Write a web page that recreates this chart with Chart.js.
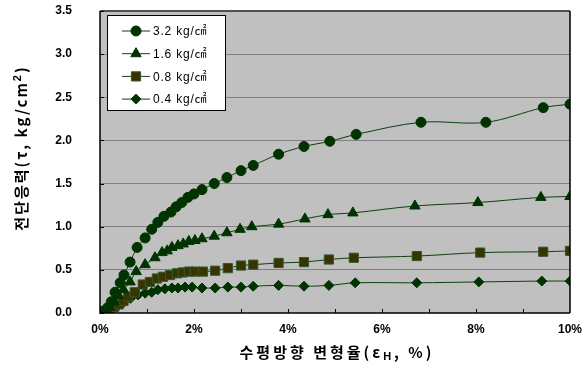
<!DOCTYPE html>
<html>
<head>
<meta charset="utf-8">
<script src="https://cdn.jsdelivr.net/npm/chart.js@4.4.1/dist/chart.umd.min.js"></script>
<style>
  html, body { margin: 0; padding: 0; background: #ffffff; }
  #wrap { width: 586px; height: 374px; }
</style>
</head>
<body>
<div id="wrap"><canvas id="myChart" width="586" height="374"></canvas></div>
<script>
// legend labels
var seriesNames = ['3.2 kg/㎠', '1.6 kg/㎠', '0.8 kg/㎠', '0.4 kg/㎠'];

// horizontal strain (%) and shear stress (kg/cm2)
var strain32 = [0, 0.08, 0.16, 0.24, 0.32, 0.43, 0.51, 0.64, 0.79, 0.96, 1.1, 1.23, 1.36, 1.51, 1.62, 1.74, 1.87, 2.0, 2.17, 2.43, 2.7, 3.0, 3.26, 3.8, 4.34, 4.89, 5.45, 6.83, 8.21, 9.43, 10.0];
var stress32 = [0, 0.02, 0.06, 0.13, 0.24, 0.35, 0.44, 0.59, 0.76, 0.87, 0.97, 1.05, 1.12, 1.17, 1.23, 1.28, 1.34, 1.38, 1.43, 1.5, 1.57, 1.65, 1.71, 1.84, 1.93, 1.99, 2.07, 2.21, 2.21, 2.38, 2.42];

var strain16 = [0, 0.1, 0.2, 0.3, 0.4, 0.5, 0.64, 0.77, 0.96, 1.17, 1.32, 1.43, 1.53, 1.66, 1.77, 1.89, 2.02, 2.17, 2.43, 2.7, 2.98, 3.23, 3.8, 4.36, 4.85, 5.38, 6.7, 8.04, 9.38, 10.0];
var stress16 = [0, 0.03, 0.07, 0.13, 0.2, 0.27, 0.36, 0.48, 0.56, 0.64, 0.70, 0.72, 0.76, 0.78, 0.80, 0.83, 0.84, 0.86, 0.89, 0.93, 0.97, 1.0, 1.03, 1.09, 1.14, 1.16, 1.24, 1.28, 1.34, 1.35];

var strain08 = [0, 0.1, 0.2, 0.3, 0.4, 0.5, 0.6, 0.74, 0.91, 1.06, 1.21, 1.34, 1.49, 1.64, 1.76, 1.89, 2.02, 2.19, 2.45, 2.72, 3.0, 3.26, 3.8, 4.34, 4.87, 5.4, 6.74, 8.09, 9.43, 10.0];
var stress08 = [0, 0.02, 0.04, 0.07, 0.1, 0.14, 0.19, 0.24, 0.33, 0.36, 0.40, 0.42, 0.44, 0.46, 0.47, 0.48, 0.48, 0.48, 0.49, 0.52, 0.55, 0.56, 0.58, 0.59, 0.62, 0.64, 0.66, 0.70, 0.71, 0.72];

var strain04 = [0, 0.1, 0.2, 0.3, 0.4, 0.5, 0.65, 0.81, 0.96, 1.1, 1.23, 1.38, 1.53, 1.66, 1.81, 1.96, 2.17, 2.45, 2.72, 3.0, 3.26, 3.8, 4.34, 4.87, 5.43, 6.74, 8.06, 9.4, 10.0];
var stress04 = [0, 0.02, 0.04, 0.06, 0.09, 0.12, 0.17, 0.21, 0.23, 0.24, 0.27, 0.28, 0.29, 0.29, 0.30, 0.30, 0.29, 0.29, 0.30, 0.30, 0.31, 0.32, 0.31, 0.32, 0.35, 0.35, 0.36, 0.37, 0.37];

// axis ticks
var xTicks = [0, 2, 4, 6, 8, 10];
var yTicks = [0, 0.5, 1.0, 1.5, 2.0, 2.5, 3.0, 3.5];

var lineColor = '#0f3f0f';
var markColor = '#003300';

function toPoints(xs, ys) {
  return xs.map(function (x, i) { return { x: x, y: ys[i] }; });
}

// small marker painter, used for the legend
function drawMarker(ctx, style, x, y, r, fill, stroke) {
  ctx.save();
  ctx.fillStyle = fill;
  ctx.strokeStyle = stroke;
  ctx.lineWidth = 1;
  ctx.beginPath();
  if (style === 'circle') {
    ctx.arc(x, y, r, 0, Math.PI * 2);
  } else if (style === 'triangle') {
    ctx.moveTo(x, y - r);
    ctx.lineTo(x + r * 0.866, y + r * 0.5);
    ctx.lineTo(x - r * 0.866, y + r * 0.5);
    ctx.closePath();
  } else if (style === 'rect') {
    var s = r * Math.SQRT1_2;
    ctx.rect(x - s, y - s, 2 * s, 2 * s);
  } else {
    ctx.moveTo(x - r, y);
    ctx.lineTo(x, y - r);
    ctx.lineTo(x + r, y);
    ctx.lineTo(x, y + r);
    ctx.closePath();
  }
  ctx.fill();
  ctx.stroke();
  ctx.restore();
}

// gray plot background
var plotBg = {
  id: 'plotBg',
  beforeDraw: function (chart) {
    var a = chart.chartArea, ctx = chart.ctx;
    ctx.save();
    ctx.fillStyle = '#c0c0c0';
    ctx.fillRect(a.left, a.top, a.right - a.left, a.bottom - a.top);
    ctx.restore();
  }
};

// frame, inside ticks, legend box and axis titles
var extras = {
  id: 'extras',
  afterDraw: function (chart) {
    var a = chart.chartArea, ctx = chart.ctx;
    var xs = chart.scales.x, ys = chart.scales.y;
    ctx.save();

    // frame
    ctx.strokeStyle = '#505050';
    ctx.lineWidth = 2;
    ctx.beginPath();
    ctx.moveTo(a.left, a.top);
    ctx.lineTo(a.right, a.top);
    ctx.stroke();
    ctx.strokeStyle = '#000000';
    ctx.lineWidth = 1.5;
    ctx.beginPath();
    ctx.moveTo(a.right, a.top);
    ctx.lineTo(a.right, a.bottom);
    ctx.moveTo(a.left, a.top);
    ctx.lineTo(a.left, a.bottom);
    ctx.lineTo(a.right, a.bottom);
    ctx.stroke();

    // inside tick marks
    ctx.lineWidth = 1;
    ctx.beginPath();
    for (var i = 1; i < 10; i++) {
      var px = Math.round(xs.getPixelForValue(i)) + 0.5;
      ctx.moveTo(px, a.bottom);
      ctx.lineTo(px, a.bottom - 4);
    }
    yTicks.forEach(function (v) {
      var py = Math.round(ys.getPixelForValue(v)) + 0.5;
      ctx.moveTo(a.left, py);
      ctx.lineTo(a.left + 4, py);
    });
    ctx.stroke();

    // legend box
    var bx = 107, by = 15, bw = 118, bh = 95;
    ctx.fillStyle = '#ffffff';
    ctx.fillRect(bx, by, bw, bh);
    ctx.strokeStyle = '#000000';
    ctx.lineWidth = 1;
    ctx.strokeRect(bx + 0.5, by + 0.5, bw, bh);
    chart.data.datasets.forEach(function (ds, k) {
      var ly = 31 + k * 22.7;
      ctx.strokeStyle = lineColor;
      ctx.lineWidth = 1;
      ctx.beginPath();
      ctx.moveTo(122, ly);
      ctx.lineTo(150, ly);
      ctx.stroke();
      drawMarker(ctx, ds.pointStyle, 136, ly, ds.pointRadius, ds.pointBackgroundColor, ds.pointBorderColor);
      ctx.save();
      ctx.fillStyle = '#000000';
      ctx.font = '12px "Liberation Sans", "Noto Sans CJK KR"';
      ctx.letterSpacing = '0.8px';
      ctx.textAlign = 'left';
      ctx.textBaseline = 'middle';
      ctx.fillText(seriesNames[k], 153, ly + 1);
      ctx.restore();
    });

    // x axis title with subscript H
    ctx.fillStyle = '#000000';
    ctx.textBaseline = 'alphabetic';
    ctx.textAlign = 'left';
    var big = 'bold 15px "Noto Sans CJK KR"';
    var small = 'bold 11px "Liberation Sans"';
    ctx.letterSpacing = '3px';
    var partA = '수평방향 변형율(ε', partB = 'H', partC = ', %)';
    ctx.font = big;
    var wA = ctx.measureText(partA).width, wC = ctx.measureText(partC).width;
    ctx.font = small;
    var wB = ctx.measureText(partB).width;
    var tx = 337 - (wA + wB + wC) / 2, ty = 358;
    ctx.font = big;
    ctx.fillText(partA, tx, ty);
    ctx.font = small;
    ctx.fillText(partB, tx + wA, ty + 2);
    ctx.font = big;
    ctx.fillText(partC, tx + wA + wB, ty);

    // y axis title with superscript 2
    ctx.letterSpacing = '2px';
    ctx.translate(27, 148);
    ctx.rotate(-Math.PI / 2);
    var yA = '전단응력(τ, kg/cm', yB = '2', yC = ')';
    ctx.font = big;
    var vA = ctx.measureText(yA).width, vC = ctx.measureText(yC).width;
    ctx.font = small;
    var vB = ctx.measureText(yB).width;
    var sx = -(vA + vB + vC) / 2;
    ctx.font = big;
    ctx.fillText(yA, sx, 0);
    ctx.font = small;
    ctx.fillText(yB, sx + vA, -6);
    ctx.font = big;
    ctx.fillText(yC, sx + vA + vB, 0);

    ctx.restore();
  }
};

function makeSet(label, xs, ys, style, radius, fill, border) {
  return {
    label: label,
    data: toPoints(xs, ys),
    showLine: true,
    borderColor: lineColor,
    borderWidth: 1,
    tension: 0.35,
    pointStyle: style,
    pointRadius: radius,
    pointHoverRadius: radius,
    pointBackgroundColor: fill,
    pointBorderColor: border,
    pointBorderWidth: 1
  };
}

var ctx = document.getElementById('myChart').getContext('2d');
var myChart = new Chart(ctx, {
  type: 'scatter',
  data: {
    datasets: [
      makeSet(seriesNames[0], strain32, stress32, 'circle', 5, markColor, markColor),
      makeSet(seriesNames[1], strain16, stress16, 'triangle', 6, markColor, markColor),
      makeSet(seriesNames[2], strain08, stress08, 'rect', 6.5, '#3a3300', '#2f5a2f'),
      makeSet(seriesNames[3], strain04, stress04, 'rectRot', 5, markColor, markColor)
    ]
  },
  options: {
    responsive: false,
    animation: false,
    layout: { padding: { left: 0, right: 16, top: 11, bottom: 0 } },
    plugins: {
      legend: { display: false },
      tooltip: { enabled: false }
    },
    scales: {
      x: {
        type: 'linear',
        min: 0,
        max: 10,
        afterFit: function (s) { s.height = 61; },
        afterBuildTicks: function (s) { s.ticks = xTicks.map(function (v) { return { value: v }; }); },
        // transparent tick marks only push the labels down
        grid: { display: true, drawOnChartArea: false, drawTicks: true, tickLength: 8, tickColor: 'rgba(0,0,0,0)', color: 'rgba(0,0,0,0)' },
        border: { display: false },
        ticks: {
          padding: 1,
          color: '#000000',
          font: { family: '"Liberation Sans"', size: 12, weight: 'bold' },
          callback: function (v) { return v + '%'; }
        }
      },
      y: {
        min: 0,
        max: 3.5,
        afterFit: function (s) { s.width = 100; },
        afterBuildTicks: function (s) { s.ticks = yTicks.map(function (v) { return { value: v }; }); },
        grid: {
          drawTicks: true,
          tickLength: 27,
          tickColor: 'rgba(0,0,0,0)',
          color: function (c) {
            return (c.tick.value === 0 || c.tick.value === 3.5) ? 'rgba(0,0,0,0)' : '#808080';
          }
        },
        border: { display: false },
        ticks: {
          padding: 1,
          color: '#000000',
          font: { family: '"Liberation Sans"', size: 12, weight: 'bold' },
          callback: function (v) { return v.toFixed(1); }
        }
      }
    }
  },
  plugins: [plotBg, extras]
});
</script>
</body>
</html>
